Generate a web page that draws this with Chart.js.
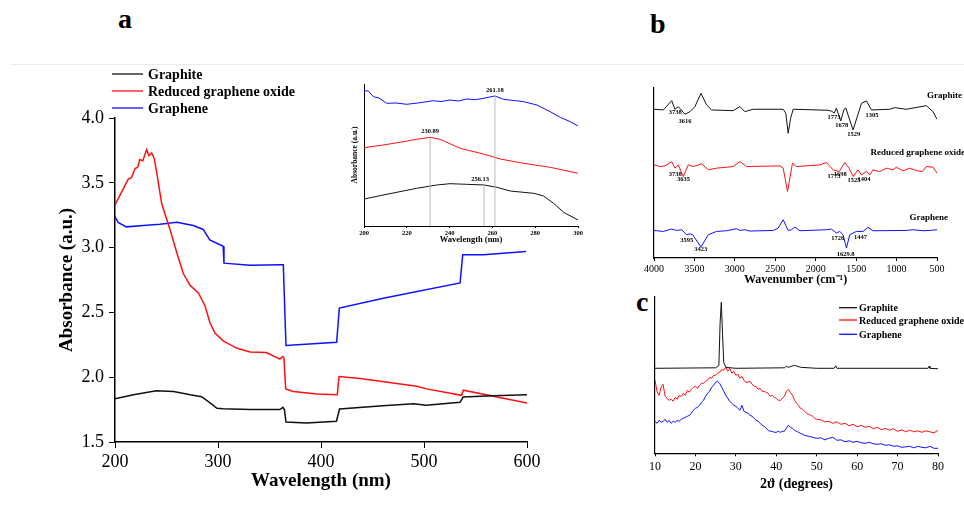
<!DOCTYPE html>
<html>
<head>
<meta charset="utf-8">
<script src="https://cdn.jsdelivr.net/npm/chart.js@4.4.0/dist/chart.umd.min.js"></script>
<style>
  html, body { margin:0; padding:0; background:#fff; }
  body { width:964px; height:509px; position:relative; overflow:hidden; font-family:"Liberation Serif", serif; }
  canvas { position:absolute; }
  .tag  { position:absolute; font:bold 28px "Liberation Serif", serif; line-height:1; color:#000; }
  .rule { position:absolute; left:10px; top:64px; width:954px; height:1px; background:#ececec; }
</style>
</head>
<body>
<div class="tag" style="left:118px;top:5px">a</div>
<div class="tag" style="left:650px;top:10px">b</div>
<div class="tag" style="left:636px;top:288px">c</div>
<div class="rule"></div>

<canvas id="uv"    width="560" height="449" style="left:0;top:60px"></canvas>
<canvas id="inset" width="250" height="170" style="left:340px;top:78px"></canvas>
<canvas id="ftir"  width="364" height="215" style="left:600px;top:75px"></canvas>
<canvas id="xrd"   width="364" height="224" style="left:600px;top:285px"></canvas>

<script>
// ── Series ────────────────────────────────────────────────────
const seriesNames  = ['Graphite', 'Reduced graphene oxide', 'Graphene'];
const seriesColors = ['#111111', '#ff1010', '#1010ff'];

// ── (a) UV-vis, main ──────────────────────────────────────────
const uvWave_graphite = [200,218,240,257,273,284,291,299,305,331,360,363,364.5,366,386,415,418,460,490,502,535,538,567,600];
const uvAbs_graphite  = [1.834,1.865,1.896,1.89,1.865,1.85,1.81,1.76,1.757,1.75,1.75,1.767,1.75,1.654,1.647,1.66,1.755,1.78,1.795,1.783,1.806,1.847,1.857,1.865];
const uvWave_rgo = [200,206.5,211,213,216,219.5,222,224,227,230.7,233,235.6,238,240.5,245.3,253.4,260,266.3,272.8,281,287.4,292.2,297,305,318,331,347,360,362.8,364,365.7,373,396,415.8,417.5,438,493,502.5,536.5,538.2,600];
const uvAbs_rgo  = [3.33,3.43,3.50,3.53,3.54,3.61,3.62,3.68,3.67,3.755,3.71,3.73,3.69,3.58,3.34,3.14,2.96,2.80,2.71,2.65,2.55,2.42,2.34,2.28,2.225,2.195,2.19,2.14,2.16,2.15,1.91,1.89,1.87,1.865,2.005,1.99,1.93,1.91,1.86,1.90,1.80];
const uvWave_graphene = [200,203,211,227.5,243.7,260,276,285.7,292,305,305.8,331,361.8,363.4,366,415.2,417.8,460.5,535,537.6,557.6,599];
const uvAbs_graphene  = [3.24,3.195,3.16,3.17,3.18,3.195,3.17,3.14,3.06,3.01,2.88,2.863,2.868,2.868,2.245,2.27,2.534,2.61,2.727,2.945,2.945,2.97];
const uvTicksX = [200,300,400,500,600];
const uvTicksY = [1.5,2.0,2.5,3.0,3.5,4.0];

// ── (a) inset, 200–300 nm (arbitrary units) ───────────────────
const inWave_graphite = [200,209,224.6,234,240.2,248,256.13,262.1,268.3,279.3,283.9,288.6,293.3,300];
const inAbs_graphite  = [27,31,37.7,41,42.3,41.7,41,38.7,35,32.7,30,22.7,13.7,6];
const inWave_rgo = [200,209,218.4,224.6,230.89,235.6,244.9,255.8,263.7,274.6,287,300];
const inAbs_rgo  = [78.3,81,84.3,86.7,88.7,86.7,77.7,72,67,62.7,58.7,52.7];
const inWave_graphene = [200,202,204.4,207,210.6,215,220,226.2,232.4,236,240.2,244,248,252,255.8,261.18,265.2,270,274.6,280.8,287,291.7,296.4,300];
const inAbs_graphene  = [135.3,135,129.3,128,122.7,123,121.7,123.3,125.3,124.5,126,125,127,126.3,127.7,130,126.7,125.5,124.3,121,114.3,108.7,104.3,100];
const inTicksX   = [200,220,240,260,280,300];
const inPeaks    = [230.89, 256.13, 261.18];
const inPeakTops = [88.7, 41, 130];

// ── (b) FTIR ──────────────────────────────────────────────────
const ftWn_graphite = [4000,3885,3781,3741,3700,3670,3617,3555,3494,3419,3349,3287,3020,2938,2876,2773,2403,2370,2341,2310,2279,1850,1800,1773,1745,1690,1650,1628,1538,1434,1372,1310,1085,1023,879,631,550,500];
const ftT_graphite  = [149,148.3,157.6,149,151.6,149,144,146.6,151.6,165,153.3,148.3,147.6,151.7,146.6,149,149,145,125,140,149,148,147,145,150,137.3,149,150.3,128.3,155,157.3,148.3,149,150.6,149,152.6,146.6,139];
const ftWn_rgo = [4000,3926,3864,3782,3741,3700,3638,3576,3514,3411,3329,3226,3020,2938,2855,2443,2402,2349,2287,2237,1949,1867,1785,1710,1640,1587,1538,1476,1435,1373,1332,1291,1208,1126,1044,1003,920,838,756,682,632,550,500];
const ftT_rgo  = [93.3,91.6,92.3,96.6,90,93.3,81.6,93.3,91.6,94.3,88.3,90,91.6,96.6,91.6,92.3,90,66.6,95,91.6,93.3,95.6,88.3,86.6,95.6,90,81.6,88.3,83.3,86.6,83.3,88.3,86.6,90,88.3,91,87.3,90,87.6,86.6,91.6,91,85];
const ftWn_graphene = [4000,3885,3782,3720,3658,3597,3555,3522,3419,3329,3226,3103,2979,2938,2876,2814,2526,2464,2402,2341,2299,2258,2196,1867,1806,1744,1703,1662,1620,1579,1497,1415,1353,1291,879,797,673,591,500];
const ftT_graphene  = [27.6,26.6,29,27.6,28.3,23.3,24.3,23.3,11,23.3,26.6,27.3,29.3,27.6,28.3,27,27.6,30,38.3,27.6,28.3,31,27.3,28.3,29,25,26.6,23.3,10,23.3,26.6,26.6,30.6,27.3,27.6,28.3,27.3,27.6,28.3];
const ftTicksX = [4000,3500,3000,2500,2000,1500,1000,500];
const ftPeaks_graphite  = ['3738','3616','1773','1678','1529','1305'];
const ftPeakY_graphite  = [146,137.3,141,133.3,124.3,143.3];
const ftPeaks_rgo       = ['3738','3635','1773','1698','1525','1404'];
const ftPeakY_rgo       = [84.3,79.3,82.3,84.3,77.6,79.3];
const ftPeaks_graphene  = ['3595','3423','1726','1629.8','1447'];
const ftPeakY_graphene  = [17.3,8.3,19.3,4,21];
const ftNameY           = [162.3, 105.6, 40];

// ── (c) XRD ───────────────────────────────────────────────────
const xrdTheta_graphite = [10,25,25.8,26.1,26.4,26.7,27,27.5,30,42,42.5,43,44.5,46,50,54.3,54.7,55,77.5,77.8,78,80];
const xrdI_graphite     = [85,85.5,88,130,151,120,91,86,85,85.5,87,86,88,86,85,85,87.5,85,85,87,85,84.5];
const xrdTheta_rgo = [10,10.5,11,11.5,12,12.5,13,13.5,14,14.5,15,15.5,16,16.5,17,17.5,18,18.5,19,19.5,20,20.5,21,21.5,22,22.5,23,23.5,24,24.5,25,25.5,26,26.5,27,27.5,28,28.5,29,29.5,30,30.5,31,31.5,32,32.5,33,33.5,34,34.5,35,35.5,36,36.5,37,37.5,38,38.5,39,39.5,40,40.5,41,41.5,42,42.5,43,43.5,44,44.5,45,45.5,46,46.5,47,47.5,48,48.5,49,49.5,50,51,52,53,54,55,56,57,58,59,60,61,62,63,64,65,66,67,68,69,70,71,72,73,74,75,76,77,78,79,80];
const xrdI_rgo     = [73,62,58,66,69,57,55,53,54,52,56,54,58,57,60,58,63,61,64,66,67,65,68,70,70,72,73,76,75,78,78,80,81,84,83,86,82,85,80,82,78,79,75,77,73,71,71,72,69,67,67,64,65,62,62,61,60,57,58,56,55,53,53,55,57,62,64,61,58,53,50,48,45,44,42,40,39,38,37,35,34,33.5,31.5,32,30,31.5,29,30,27.5,29,26.5,28,26,27,24.5,26,23.5,25,23,24.5,22,23.5,21.5,23,21.5,22.5,21,22.5,21.5,20.5,23];
const xrdTheta_graphene = [10,10.5,11,11.5,12,12.5,13,13.5,14,14.5,15,15.5,16,16.5,17,17.5,18,18.5,19,19.5,20,20.5,21,21.5,22,22.5,23,23.5,24,24.5,25,25.5,26,26.5,27,27.5,28,28.5,29,29.5,30,30.5,31,31.5,32,32.5,33,33.5,34,34.5,35,35.5,36,36.5,37,37.5,38,38.5,39,39.5,40,40.5,41,41.5,42,42.5,43,43.5,44,44.5,45,45.5,46,47,48,49,50,51,52,53,54,55,56,57,58,59,60,61,62,63,64,65,66,67,68,69,70,71,72,73,74,75,76,77,78,79,80];
const xrdI_graphene     = [32,30,33,31,32,34,31,33,30,32,31,33,32,34,35,36,37,38,40,43,45,46,48,51,53,57,60,62,66,68,71,72,70,66,62,58,55,52,50,48,47,45,43,48,42,41,40,38,37,35,33,32,30,28,27,25,23,22,22,21,21,22,21,22,22,25,28,26,25,23,22,21,20,18,17,16,15,15.5,13.5,15,16,13,13.5,11.5,12.5,11,12,10.5,10,11,9.5,9,9.5,8,8.5,7,7.5,6,6.5,7,5.5,7,6,5.5,7,5,5];
const xrdTicksX = [10,20,30,40,50,60,70,80];

// ── Helpers ───────────────────────────────────────────────────
const SERIF = '"Liberation Serif", "Times New Roman", serif';
const zip = (xs, ys) => xs.map((x, i) => ({ x, y: ys[i] }));

function line(label, xs, ys, color, width) {
  return { label, data: zip(xs, ys), borderColor: color, borderWidth: width,
           pointRadius: 0, tension: 0, fill: false };
}

// text placed at data coords (or absolute px for x when m.px is given)
function marks(items) {
  return {
    id: 'marks',
    afterDatasetsDraw(chart) {
      const { ctx, scales: { x, y } } = chart;
      items.forEach(m => {
        ctx.save();
        ctx.font = m.font;
        ctx.fillStyle = m.color || '#000';
        ctx.textAlign = m.align || 'center';
        ctx.textBaseline = 'middle';
        const px = m.px != null ? m.px : x.getPixelForValue(m.x) + (m.dx || 0);
        ctx.fillText(m.text, px, y.getPixelForValue(m.y) + (m.dy || 0));
        ctx.restore();
      });
    }
  };
}

// hand-placed key (line + name), px positions in canvas space
function keyBox(x1, x2, tx, ys, font) {
  return {
    id: 'keyBox',
    afterDraw(chart) {
      const ctx = chart.ctx;
      ctx.save();
      ctx.font = font;
      ctx.textBaseline = 'middle';
      ctx.textAlign = 'left';
      seriesNames.forEach((n, i) => {
        ctx.strokeStyle = seriesColors[i];
        ctx.lineWidth = 1.3;
        ctx.beginPath(); ctx.moveTo(x1, ys[i]); ctx.lineTo(x2, ys[i]); ctx.stroke();
        ctx.fillStyle = '#000';
        ctx.fillText(n, tx, ys[i] + 1);
      });
      ctx.restore();
    }
  };
}

function xAxis(min, max, ticks, o) {
  return {
    type: 'linear', min, max, reverse: !!o.reverse,
    afterBuildTicks: s => { s.ticks = ticks.map(v => ({ value: v })); },
    ticks: { color: '#000', font: { family: SERIF, size: o.tickSize, weight: o.tickWeight || 'normal' },
             padding: o.tickPad, maxRotation: 0, autoSkip: false, callback: v => String(v) },
    grid: { drawOnChartArea: false, drawTicks: true, tickLength: o.tickLen, color: '#000', lineWidth: 1 },
    border: { color: '#000', width: o.border },
    title: { display: true, text: o.title, color: '#000',
             font: { family: SERIF, size: o.titleSize, weight: 'bold' }, padding: { top: 0, bottom: o.titlePad } },
    afterFit: s => { s.height = o.height; }
  };
}

function yAxis(min, max, o) {
  const ax = {
    type: 'linear', min, max,
    grid: { display: false },
    border: { color: '#000', width: o.border },
    ticks: { display: false },
    afterFit: s => { s.width = o.width; }
  };
  if (o.ticks) {
    ax.afterBuildTicks = s => { s.ticks = o.ticks.map(v => ({ value: v })); };
    ax.ticks = { display: true, color: '#000', font: { family: SERIF, size: o.tickSize },
                 padding: o.tickPad, callback: v => v.toFixed(1) };
    ax.grid = { drawOnChartArea: false, drawTicks: true, tickLength: o.tickLen, color: '#000' };
  }
  if (o.title) {
    ax.title = { display: true, text: o.title, color: '#000',
                 font: { family: SERIF, size: o.titleSize, weight: 'bold' }, padding: { top: o.titlePad, bottom: 0 } };
  }
  return ax;
}

const base = padding => ({
  responsive: false, animation: false, events: [],
  layout: { padding },
  plugins: { legend: { display: false }, tooltip: { enabled: false } }
});

// ── (a) main ──────────────────────────────────────────────────
new Chart(document.getElementById('uv'), {
  type: 'line',
  data: { datasets: [
    line(seriesNames[0], uvWave_graphite, uvAbs_graphite, seriesColors[0], 1.5),
    line(seriesNames[1], uvWave_rgo,      uvAbs_rgo,      seriesColors[1], 1.5),
    line(seriesNames[2], uvWave_graphene, uvAbs_graphene, seriesColors[2], 1.5),
  ]},
  options: { ...base({ top: 58, right: 33, left: 0, bottom: 0 }),
    scales: {
      x: xAxis(200, 600, uvTicksX, { tickSize: 18, tickPad: 3, tickLen: 6, border: 1.5,
              title: 'Wavelength (nm)', titleSize: 19, titlePad: 17, height: 67 }),
      y: yAxis(1.5, 4.0, { ticks: uvTicksY, tickSize: 18, tickPad: 5, tickLen: 6, border: 1.5,
              title: 'Absorbance (a.u.)', titleSize: 19, titlePad: 56, width: 115 })
    }
  },
  plugins: [keyBox(112, 143, 148, [14, 31, 48], 'bold 14px ' + SERIF)]
});

// ── (a) inset ─────────────────────────────────────────────────
const inMarkers = inPeaks.map((p, i) => ({
  label: 'peak ' + p, data: [{ x: p, y: 0 }, { x: p, y: inPeakTops[i] }],
  borderColor: '#b8b8b8', borderWidth: 1, pointRadius: 0
}));
new Chart(document.getElementById('inset'), {
  type: 'line',
  data: { datasets: [
    ...inMarkers,
    line(seriesNames[0], inWave_graphite, inAbs_graphite, seriesColors[0], 1),
    line(seriesNames[1], inWave_rgo,      inAbs_rgo,      seriesColors[1], 1),
    line(seriesNames[2], inWave_graphene, inAbs_graphene, seriesColors[2], 1),
  ]},
  options: { ...base({ top: 6, right: 12, left: 0, bottom: 0 }),
    scales: {
      x: xAxis(200, 300, inTicksX, { tickSize: 6.5, tickWeight: 'bold', tickPad: 1, tickLen: 2, border: 1,
              title: 'Wavelength (nm)', titleSize: 8.5, titlePad: 3, height: 22 }),
      y: yAxis(0, 142, { border: 1, title: 'Absorbance (a.u.)', titleSize: 7.5, titlePad: 10.5, width: 24 })
    }
  },
  plugins: [marks(inPeaks.map((p, i) => ({
    text: p.toFixed(2), x: p, y: inPeakTops[i], dy: -6, dx: i === 1 ? -4 : 0, font: 'bold 6.5px ' + SERIF
  })))]
});

// ── (b) FTIR ──────────────────────────────────────────────────
const pk = (labels, ys) => labels.map((t, i) => ({ text: t, x: parseFloat(t), y: ys[i], font: 'bold 6.5px ' + SERIF }));
new Chart(document.getElementById('ftir'), {
  type: 'line',
  data: { datasets: [
    line(seriesNames[0], ftWn_graphite, ftT_graphite, seriesColors[0], 1),
    line(seriesNames[1], ftWn_rgo,      ftT_rgo,      seriesColors[1], 1),
    line(seriesNames[2], ftWn_graphene, ftT_graphene, seriesColors[2], 1),
  ]},
  options: { ...base({ top: 13, right: 27, left: 0, bottom: 0 }),
    scales: {
      x: xAxis(500, 4000, ftTicksX, { reverse: true, tickSize: 10, tickPad: 2, tickLen: 3, border: 1.2,
              title: 'Wavenumber (cm\u207B\u00B9)', titleSize: 12, titlePad: 3, height: 32 }),
      y: yAxis(0, 170.3, { border: 1.2, width: 54 })
    }
  },
  plugins: [marks([
    ...pk(ftPeaks_graphite, ftPeakY_graphite),
    ...pk(ftPeaks_rgo, ftPeakY_rgo),
    ...pk(ftPeaks_graphene, ftPeakY_graphene),
    { text: seriesNames[0], px: 362, y: ftNameY[0], align: 'right', font: 'bold 9px ' + SERIF },
    { text: seriesNames[1], px: 365, y: ftNameY[1], align: 'right', font: 'bold 9px ' + SERIF },
    { text: seriesNames[2], px: 348, y: ftNameY[2], align: 'right', font: 'bold 9px ' + SERIF },
  ])]
});

// ── (c) XRD ───────────────────────────────────────────────────
new Chart(document.getElementById('xrd'), {
  type: 'line',
  data: { datasets: [
    line(seriesNames[0], xrdTheta_graphite, xrdI_graphite, seriesColors[0], 1),
    line(seriesNames[1], xrdTheta_rgo,      xrdI_rgo,      seriesColors[1], 1),
    line(seriesNames[2], xrdTheta_graphene, xrdI_graphene, seriesColors[2], 1),
  ]},
  options: { ...base({ top: 11.7, right: 26, left: 0, bottom: 0 }),
    scales: {
      x: xAxis(10, 80, xrdTicksX, { tickSize: 12, tickPad: 3, tickLen: 3, border: 1.2,
              title: '2\u03D1 (degrees)', titleSize: 14, titlePad: 16, height: 55.7 }),
      y: yAxis(0, 156.6, { border: 1.2, width: 55 })
    }
  },
  plugins: [keyBox(239, 257, 259, [22.7, 35, 49.3], 'bold 10px ' + SERIF)]
});
</script>
</body>
</html>
